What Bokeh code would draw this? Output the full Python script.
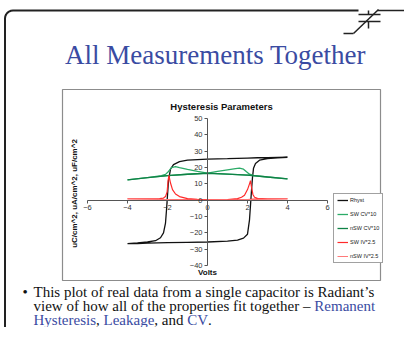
import math
from bokeh.plotting import figure
from bokeh.models import FixedTicker, Legend, LegendItem, Range1d
from bokeh.embed import file_html
from bokeh.resources import INLINE
from bokeh.core.properties import value

# ---------------- data ----------------
x_ticks = [-6, -4, -2, 0, 2, 4, 6]
y_ticks = [-40, -30, -20, -10, 0, 10, 20, 30, 40, 50]

rhyst_v = [4.0, 3.5, 3.0, 2.5, 2.0, 1.0, 0.0, -0.5, -1.0, -1.4, -1.7, -1.85, -1.95, -2.0, -2.05, -2.1, -2.2, -2.35,
           -2.6, -3.0, -3.5, -4.0,
           -3.5, -3.0, -2.0, -1.0, 0.0, 1.0, 1.5, 1.8, 2.0, 2.1, 2.15, 2.2, 2.25, 2.3, 2.4, 2.6, 3.0, 3.5, 4.0]
rhyst_p = [26.3, 26.2, 26.1, 26.0, 25.8, 25.4, 25.1, 24.9, 24.5, 23.6, 21.8, 19.0, 12.0, 3.0, -6.0, -14.0, -20.0, -23.0,
           -24.8, -25.6, -26.2, -26.6,
           -26.5, -26.3, -26.0, -25.8, -25.6, -25.1, -24.4, -23.2, -20.8, -12.0, -3.0, 6.0, 14.0, 19.5, 22.5, 24.5,
           25.5, 26.0, 26.3]

swcv_v = [-4, -3, -2, -1, 0, 0.5, 1.0, 1.4, 1.6, 1.8, 1.95, 2.1, 2.3, 3, 4,
          3, 2, 1, 0, -0.5, -1.0, -1.4, -1.6, -1.8, -1.95, -2.1, -2.3, -3, -4]
swcv_p = [12.5, 13.8, 15.1, 15.9, 16.6, 17.6, 18.6, 19.3, 19.6, 19.0, 17.4, 15.9, 15.2, 14.2, 13.0,
          14.2, 15.4, 16.0, 16.6, 17.6, 18.9, 20.0, 20.6, 19.9, 17.6, 15.8, 15.0, 13.8, 12.5]

nswcv_v = [-4, -3, -2, -1, 0, 1, 2, 3, 4]
nswcv_p = [12.5, 13.8, 15.0, 15.9, 16.5, 16.0, 15.4, 14.2, 13.0]

swiv_v = [-4, -3, -2.4, -2.0, -1.0, 0.0, 1.0, 1.5, 1.7, 1.85, 2.0, 2.1, 2.15, 2.2, 2.27, 2.35, 2.5, 3.0, 4.0,
          3.0, 2.4, 2.0, 1.0, 0.0, -0.5, -1.0, -1.4, -1.6, -1.75, -1.85, -1.93, -1.97, -2.02, -2.1, -2.2, -2.4,
          -3.0, -4.0]
swiv_p = [0.9, 0.8, 0.7, 0.4, 0.2, 0.2, 0.4, 1.0, 1.8, 3.0, 6.5, 10.0, 12.0, 8.0, 3.5, 1.8, 1.2, 0.9, 0.9,
          0.8, 0.7, 0.4, 0.2, 0.3, 0.5, 1.0, 2.2, 3.8, 6.5, 10.5, 15.2, 12.0, 5.0, 2.2, 1.3, 1.0,
          0.9, 0.9]

nswiv_v = [-4, -2.5, -1.5, 0, 1.5, 2.5, 4]
nswiv_p = [0.8, 0.6, 0.2, 0.0, 0.2, 0.6, 0.8]

series_names = ["Rhyst", "SW CV*10", "nSW CV*10", "SW IV*2.5", "nSW IV*2.5"]
series_colors = ["#111111", "#2bab67", "#0f8246", "#ff2a2a", "#ff7a7a"]

# ---------------- layout helpers (page pixels -> chart units) ----------------
W, H = 404, 327
X0, XS = 207.0, 20.0      # page x of V=0, px per volt
Y0, YS = 199.7, 1.6333    # page y of 0, px per unit


def dx(px):
    return (px - X0) / XS


def dy(py):
    return (Y0 - py) / YS


p = figure(width=W, height=H, output_backend="svg", toolbar_location=None,
           x_range=Range1d(dx(0), dx(W)), y_range=Range1d(dy(H), dy(0)),
           min_border=0)
p.outline_line_color = None
p.grid.visible = False
p.background_fill_color = "white"
p.border_fill_color = "white"

# chart box
p.quad(left=[dx(62)], right=[dx(380)], top=[dy(89)], bottom=[dy(280)],
       fill_color="white", line_color="#8c8c8c", line_width=1.2)

# axes crossing at zero
for ax, ticks, bnd in ((p.xaxis[0], x_ticks, (-6, 6)), (p.yaxis[0], y_ticks, (-40, 50))):
    ax.fixed_location = 0
    ax.bounds = bnd
    ax.ticker = FixedTicker(ticks=ticks, minor_ticks=[])
    ax.axis_line_color = "#555555"
    ax.axis_line_width = 1
    ax.major_tick_line_color = "#555555"
    ax.major_tick_out = 3
    ax.major_tick_in = 0
    ax.major_label_text_font = "Liberation Sans"
    ax.major_label_text_font_size = "7.5px"
    ax.major_label_text_color = "#333333"
    ax.major_label_standoff = 2

# data series
r_h = p.line(rhyst_v, rhyst_p, line_color=series_colors[0], line_width=1.3)
r_sc = p.line(swcv_v, swcv_p, line_color=series_colors[1], line_width=1.3)
r_nc = p.line(nswcv_v, nswcv_p, line_color=series_colors[2], line_width=1.3)
r_si = p.line(swiv_v, swiv_p, line_color=series_colors[3], line_width=1.2)
r_ni = p.line(nswiv_v, nswiv_p, line_color=series_colors[4], line_width=1.0)

legend = Legend(items=[LegendItem(label=n, renderers=[r]) for n, r in
                       zip(series_names, [r_h, r_sc, r_nc, r_si, r_ni])],
                location=(333, H - 263), padding=3, spacing=8, margin=0,
                glyph_width=11, glyph_height=6, label_height=6, label_standoff=2,
                label_text_font="Liberation Sans", label_text_font_size="5.5px",
                label_text_color="#222222",
                border_line_color="#444444", border_line_width=1.5,
                background_fill_color="white", background_fill_alpha=1.0)
p.add_layout(legend)

# chart texts
p.text(x=[dx(221)], y=[dy(105.5)], text=["Hysteresis Parameters"], text_font=value("Liberation Sans"),
       text_font_style="bold", text_font_size="9.5px", text_align="center", text_baseline="alphabetic",
       text_color="#111111")
p.text(x=[dx(207)], y=[dy(272)], text=["Volts"], text_font=value("Liberation Sans"),
       text_font_style="bold", text_font_size="8px", text_align="center", text_baseline="middle",
       text_color="#111111")
p.text(x=[dx(74)], y=[dy(193)], text=["uC/cm^2, uA/cm^2, uF/cm^2"], text_font=value("Liberation Sans"),
       text_font_style="bold", text_font_size="8px", text_align="center", text_baseline="middle",
       angle=math.pi / 2, text_color="#111111")

# slide frame
r = 8
arc = [(4.5 + r - r * math.cos(a), 10 + r - r * math.sin(a)) for a in [i * math.pi / 12 for i in range(7)]]
frame_pts = [(4.5, 345)] + arc + [(358, 10)]
p.line([dx(a) for a, b in frame_pts], [dy(b) for a, b in frame_pts], line_color="#222222", line_width=2)
for seg in [((377, 10), (420, 10)), ((368, 10), (368, 14)), ((358, 14), (380, 14)), ((358, 21), (380, 21)),
            ((368, 21), (368, 28)), ((343, 33), (353, 33)), ((353, 33), (378, 9))]:
    p.line([dx(seg[0][0]), dx(seg[1][0])], [dy(seg[0][1]), dy(seg[1][1])], line_color="#222222", line_width=1.5)

# slide title
BLUE = "#3a4ba2"
p.text(x=[dx(215)], y=[dy(54)], text=["All Measurements Together"], text_font=value("Liberation Serif"),
       text_font_size="27px", text_align="center", text_baseline="alphabetic", text_color=BLUE)

# bullet text
L1, L2, L3 = 291.0, 305.0, 319.0
segments = [
    (22, L1, "\u2022", "#111111"),
    (33, L1, "This plot of real data from a single  capacitor is Radiant\u2019s", "#111111"),
    (33, L2, "view of how all of the properties fit together \u2013 ", "#111111"),
    (313.8, L2, "Remanent", BLUE),
    (33, L3, "Hysteresis", BLUE),
    (95.5, L3, ",", "#111111"),
    (103.0, L3, "Leakage", BLUE),
    (153.8, L3, ", and", "#111111"),
    (186.7, L3, "CV", BLUE),
    (207.5, L3, ".", "#111111"),
]
for sx, sy, t, c in segments:
    p.text(x=[dx(sx)], y=[dy(sy)], text=[t], text_font=value("Liberation Serif"), text_font_size="15px",
           text_align="left", text_baseline="alphabetic", text_color=c)

open("out.html", "w").write(file_html(p, INLINE))
